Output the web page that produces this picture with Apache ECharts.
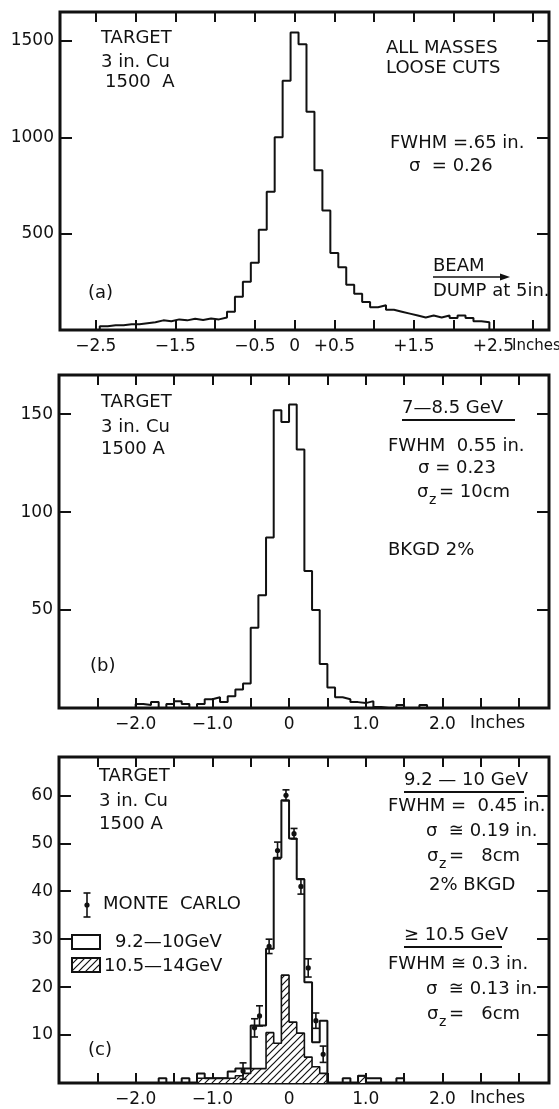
<!DOCTYPE html>
<html><head><meta charset="utf-8">
<script src="https://cdn.jsdelivr.net/npm/echarts@6/dist/echarts.min.js"></script>
<style>html,body{margin:0;padding:0;background:#fff;}#c{width:559px;height:1109px;}</style>
</head><body><div id="c"></div>
<script>
const FONT = '"DejaVu Sans", sans-serif';
const INK = '#111';

// ---------- Panel (a): all masses, loose cuts ----------
const binWidthA = 0.1;
const binsA = [-2.4,-2.3,-2.2,-2.1,-2.0,-1.9,-1.8,-1.7,-1.6,-1.5,-1.4,-1.3,-1.2,-1.1,-1.0,-0.9,-0.8,-0.7,-0.6,-0.5,-0.4,-0.3,-0.2,-0.1,0.0,0.1,0.2,0.3,0.4,0.5,0.6,0.7,0.8,0.9,1.0,1.1,1.2,1.3,1.4,1.5,1.6,1.7,1.8,1.9,2.0,2.1,2.2,2.3,2.4];
const countsA = [20,25,25,30,30,35,40,50,45,55,50,58,52,60,55,65,95,172,250,349,520,717,1000,1293,1544,1483,1133,829,620,400,326,235,188,145,118,128,105,95,85,75,65,75,65,75,62,75,62,45,40];
const yTicksA = [500,1000,1500];
const xTicksA = [-2.5,-2.0,-1.5,-1.0,-0.5,0,0.5,1.0,1.5,2.0,2.5,3.0];
const xLabelsA = [-2.5,-1.5,-0.5,0,0.5,1.5,2.5];
const xLabelTextA = ['\u22122.5','\u22121.5','\u22120.5','0','+0.5','+1.5','+2.5'];

// ---------- Panel (b): 7-8.5 GeV ----------
const binWidthB = 0.1;
const binsB = [-1.95,-1.85,-1.75,-1.65,-1.55,-1.45,-1.35,-1.25,-1.15,-1.05,-0.95,-0.85,-0.75,-0.65,-0.55,-0.45,-0.35,-0.25,-0.15,-0.05,0.05,0.15,0.25,0.35,0.45,0.55,0.65,0.75,0.85,0.95,1.05,1.15,1.25,1.35,1.45,1.55,1.65,1.75];
const countsB = [2,1.5,3,0,2,3.5,2,0,2,4.5,5.5,3,6,9.5,12.5,41,57.5,87,152,146,155,132,70,50,22.5,10.5,5.5,4.5,3,2.5,3.5,0.5,0,0,1.5,0,0,1.5];
const yTicksB = [50,100,150];

// ---------- Panel (c): 9.2-10 GeV and 10.5-14 GeV ----------
const binWidthC = 0.1;
const binsC = [-1.65,-1.55,-1.45,-1.35,-1.25,-1.15,-1.05,-0.95,-0.85,-0.75,-0.65,-0.55,-0.45,-0.35,-0.25,-0.15,-0.05,0.05,0.15,0.25,0.35,0.45,0.55,0.65,0.75,0.85,0.95,1.05,1.15,1.25,1.35,1.45];
const counts92to10 = [1,0,0,1,0,2,1,1,1,2.4,3,3,12,12,28,47,59,51,42.5,21,8.5,13,0,0,1,0,1.5,1,1,0,0,1];
const counts105to14 = [0,0,0,0,0,1,1,1,1,1,1.5,2,3,3,10.5,8.3,22.5,12.7,10.4,5.4,3.4,2,0,0,0,0,1.5,0,0,0,0,0];
const mcX = [-0.6,-0.45,-0.385,-0.26,-0.15,-0.04,0.065,0.155,0.25,0.35,0.445];
const mcY = [2.5,11.5,14,28.5,48.5,60,52,41,24,13,6];
const mcErr = [1.7,1.9,2.1,1.5,1.75,1.15,1.1,1.6,1.9,1.6,1.7];
const yTicksC = [10,20,30,40,50,60];

const xTicksBC = [-2.5,-2.0,-1.5,-1.0,-0.5,0,0.5,1.0,1.5,2.0,2.5,3.0];
const xLabelsBC = [-2.0,-1.0,0,1.0,2.0];
const xLabelTextBC = ['\u22122.0','\u22121.0','0','1.0','2.0'];

// ---------- helpers ----------
function stairs(centers, counts, w) {
  const pts = [];
  centers.forEach((c, i) => {
    const L = c - w / 2, R = c + w / 2;
    if (i === 0) pts.push([L, 0]);
    pts.push([L, counts[i]]);
    pts.push([R, counts[i]]);
  });
  pts.push([centers[centers.length - 1] + w / 2, 0]);
  return pts;
}
function makeHatch() {
  const s = 7;
  const cv = document.createElement('canvas');
  cv.width = s; cv.height = s;
  const ctx = cv.getContext('2d');
  ctx.fillStyle = '#fff'; ctx.fillRect(0, 0, s, s);
  ctx.strokeStyle = INK; ctx.lineWidth = 1.2;
  ctx.beginPath();
  ctx.moveTo(0, s); ctx.lineTo(s, 0);
  ctx.moveTo(-s / 2, s / 2); ctx.lineTo(s / 2, -s / 2);
  ctx.moveTo(s / 2, s * 1.5); ctx.lineTo(s * 1.5, s / 2);
  ctx.stroke();
  return cv;
}
const hatch = { image: makeHatch(), repeat: 'repeat' };

const grids = [
  { left: 60, top: 12, width: 489, height: 318 },
  { left: 59, top: 375, width: 490, height: 333 },
  { left: 59, top: 757, width: 490, height: 326 }
].map(g => Object.assign(g, { show: true, borderColor: INK, borderWidth: 3, backgroundColor: 'transparent' }));

const tickStyle = { lineStyle: { color: INK, width: 2 } };
function xAx(grid, min, max, ticks, labels, texts, pos) {
  return {
    type: 'value', gridIndex: grid, min: min, max: max, position: pos,
    axisLine: { show: false, onZero: false }, splitLine: { show: false },
    axisTick: Object.assign({ show: true, inside: true, length: 10, customValues: ticks }, tickStyle),
    axisLabel: { show: pos === 'bottom', customValues: labels, margin: 8,
      fontSize: 17, fontFamily: FONT, color: INK,
      formatter: v => { const i = labels.findIndex(l => Math.abs(l - v) < 1e-6); return i >= 0 ? texts[i] : ''; } }
  };
}
function yAx(grid, max, ticks, pos) {
  return {
    type: 'value', gridIndex: grid, min: 0, max: max, position: pos,
    axisLine: { show: false, onZero: false }, splitLine: { show: false },
    axisTick: Object.assign({ show: true, inside: true, length: 12, customValues: ticks }, tickStyle),
    axisLabel: { show: pos === 'left', customValues: ticks, margin: 6,
      fontSize: 17, fontFamily: FONT, color: INK, formatter: v => String(v) }
  };
}

const xAxes = [
  xAx(0, -2.95, 3.2, xTicksA, xLabelsA, xLabelTextA, 'bottom'),
  xAx(0, -2.95, 3.2, xTicksA, xLabelsA, xLabelTextA, 'top'),
  xAx(1, -3.0, 3.39, xTicksBC, xLabelsBC, xLabelTextBC, 'bottom'),
  xAx(1, -3.0, 3.39, xTicksBC, xLabelsBC, xLabelTextBC, 'top'),
  xAx(2, -3.0, 3.39, xTicksBC, xLabelsBC, xLabelTextBC, 'bottom'),
  xAx(2, -3.0, 3.39, xTicksBC, xLabelsBC, xLabelTextBC, 'top')
];
const yAxes = [
  yAx(0, 1650, yTicksA, 'left'), yAx(0, 1650, yTicksA, 'right'),
  yAx(1, 170, yTicksB, 'left'), yAx(1, 170, yTicksB, 'right'),
  yAx(2, 68, yTicksC, 'left'), yAx(2, 68, yTicksC, 'right')
];

const lineBase = { type: 'line', symbol: 'none', silent: true, animation: false,
  lineStyle: { color: INK, width: 2 } };

const series = [
  Object.assign({}, lineBase, { name: 'a', xAxisIndex: 0, yAxisIndex: 0, data: stairs(binsA, countsA, binWidthA) }),
  Object.assign({}, lineBase, { name: 'b', xAxisIndex: 2, yAxisIndex: 2, data: stairs(binsB, countsB, binWidthB) }),
  Object.assign({}, lineBase, { name: '10.5-14GeV', xAxisIndex: 4, yAxisIndex: 4, z: 2,
    lineStyle: { color: INK, width: 1.6 },
    areaStyle: { color: hatch, opacity: 1 },
    data: stairs(binsC, counts105to14, binWidthC) }),
  Object.assign({}, lineBase, { name: '9.2-10GeV', xAxisIndex: 4, yAxisIndex: 4, z: 3,
    data: stairs(binsC, counts92to10, binWidthC) }),
  {
    type: 'custom', name: 'Monte Carlo', xAxisIndex: 4, yAxisIndex: 4, z: 4, silent: true,
    data: mcX.map((x, i) => [x, mcY[i], mcErr[i]]),
    encode: { x: 0, y: 1 },
    renderItem: function (params, api) {
      const x = api.value(0), y = api.value(1), e = api.value(2);
      const p = api.coord([x, y]);
      const t = api.coord([x, y + e]);
      const b = api.coord([x, y - e]);
      const cap = 3.5, st = { stroke: INK, lineWidth: 1.6 };
      return { type: 'group', children: [
        { type: 'line', shape: { x1: p[0], y1: t[1], x2: p[0], y2: b[1] }, style: st },
        { type: 'line', shape: { x1: p[0] - cap, y1: t[1], x2: p[0] + cap, y2: t[1] }, style: st },
        { type: 'line', shape: { x1: p[0] - cap, y1: b[1], x2: p[0] + cap, y2: b[1] }, style: st },
        { type: 'circle', shape: { cx: p[0], cy: p[1], r: 2.6 }, style: { fill: INK } }
      ] };
    }
  }
];

function T(x, y, text, size) {
  return { type: 'text', x: x, y: y, silent: true, z: 10,
    style: { text: text, fill: INK, font: (size || 18) + 'px ' + FONT, textVerticalAlign: 'middle', verticalAlign: 'middle' } };
}
function sigmaZ(x, y, rest) {
  return [T(x, y, '\u03c3'), T(x + 12, y + 8, 'z', 14), T(x + 22, y, rest)];
}
function L(x1, y1, x2, y2, w) {
  return { type: 'line', silent: true, z: 10, shape: { x1: x1, y1: y1, x2: x2, y2: y2 }, style: { stroke: INK, lineWidth: w || 2 } };
}

const graphics = [
  // panel (a)
  T(101, 38, 'TARGET'), T(101, 62, '3 in. Cu'), T(105, 82, '1500  A'),
  T(386, 48, 'ALL MASSES'), T(386, 68, 'LOOSE CUTS'),
  T(390, 143, 'FWHM =.65 in.'), T(409, 166, '\u03c3  = 0.26'),
  T(433, 266, 'BEAM'), L(433, 277, 503, 277, 1.6),
  { type: 'polygon', silent: true, z: 10, shape: { points: [[500, 273.5], [510, 277], [500, 280.5]] }, style: { fill: INK } },
  T(433, 291, 'DUMP at 5in.'), T(88, 293, '(a)'),
  T(512, 346, 'Inches', 15),
  // panel (b)
  T(101, 402, 'TARGET'), T(101, 427, '3 in. Cu'), T(101, 449, '1500 A'),
  T(402, 408, '7\u20148.5 GeV'), L(402, 420, 515, 420, 2),
  T(388, 446, 'FWHM  0.55 in.'), T(418, 468, '\u03c3 = 0.23'),
  ...sigmaZ(417, 492, '= 10cm'),
  T(388, 550, 'BKGD 2%'), T(90, 666, '(b)'),
  T(470, 724, 'Inches', 17),
  // panel (c)
  T(99, 776, 'TARGET'), T(99, 801, '3 in. Cu'), T(99, 824, '1500 A'),
  T(404, 780, '9.2 \u2014 10 GeV'), L(404, 792, 524, 792, 2),
  T(388, 806, 'FWHM =  0.45 in.'), T(426, 831, '\u03c3  \u2245 0.19 in.'),
  ...sigmaZ(427, 856, '=   8cm'),
  T(429, 885, '2% BKGD'),
  T(404, 935, '\u2265 10.5 GeV'), L(404, 947, 502, 947, 2),
  T(388, 964, 'FWHM \u2245 0.3 in.'), T(426, 989, '\u03c3  \u2245 0.13 in.'),
  ...sigmaZ(427, 1014, '=   6cm'),
  T(88, 1050, '(c)'),
  T(470, 1099, 'Inches', 17),
  // legend (c)
  L(87, 893, 87, 917, 1.6), L(83.5, 893, 90.5, 893, 1.6), L(83.5, 917, 90.5, 917, 1.6),
  { type: 'circle', silent: true, z: 10, shape: { cx: 87, cy: 905, r: 2.6 }, style: { fill: INK } },
  T(103, 904, 'MONTE  CARLO'),
  { type: 'rect', silent: true, z: 10, shape: { x: 72, y: 935, width: 28, height: 14 }, style: { fill: '#fff', stroke: INK, lineWidth: 2 } },
  T(115, 942, '9.2\u201410GeV'),
  { type: 'rect', silent: true, z: 10, shape: { x: 72, y: 958, width: 28, height: 14 }, style: { fill: hatch, stroke: INK, lineWidth: 2 } },
  T(104, 966, '10.5\u201414GeV')
];

const chart = echarts.init(document.getElementById('c'), null, { renderer: 'canvas' });
chart.setOption({
  animation: false,
  backgroundColor: '#fff',
  grid: grids,
  xAxis: xAxes,
  yAxis: yAxes,
  series: series,
  graphic: graphics
});
</script>
</body></html>
